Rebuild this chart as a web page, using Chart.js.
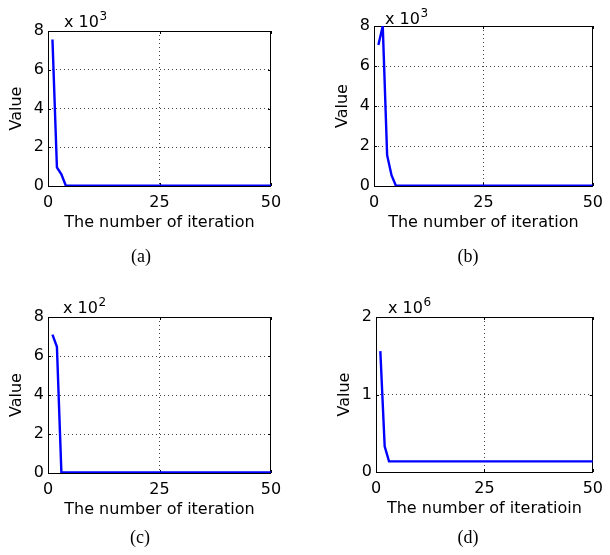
<!DOCTYPE html>
<html>
<head>
<meta charset="utf-8">
<script src="https://cdn.jsdelivr.net/npm/chart.js@4.4.1/dist/chart.umd.min.js"></script>
<style>
  html, body { margin: 0; padding: 0; background: #ffffff; }
  #wrap { position: relative; width: 610px; height: 555px; overflow: hidden; background: #fff; }
  canvas { position: absolute; }
  .cap { position: absolute; font-family: 'Liberation Serif', 'Times New Roman', serif; font-size: 18px; line-height: 18px; color: #000; transform: translate(-50%, -50%); white-space: nowrap; }
</style>
</head>
<body>
<div id="wrap">
  <canvas id="ca" width="305" height="250" style="left:0px;top:0px"></canvas>
  <canvas id="cb" width="305" height="250" style="left:305px;top:0px"></canvas>
  <canvas id="cc" width="305" height="250" style="left:0px;top:280px"></canvas>
  <canvas id="cd" width="305" height="250" style="left:305px;top:280px"></canvas>
  <div class="cap" style="left:141px;top:256px">(a)</div>
  <div class="cap" style="left:468px;top:256px">(b)</div>
  <div class="cap" style="left:140px;top:537px">(c)</div>
  <div class="cap" style="left:468px;top:537px">(d)</div>
</div>
<script>
// ---------------- data ----------------
const iterations = [1,2,3,4,5,6,7,8,9,10,11,12,13,14,15,16,17,18,19,20,21,22,23,24,25,26,27,28,29,30,31,32,33,34,35,36,37,38,39,40,41,42,43,44,45,46,47,48,49,50];

const valuesA = [7560,960,600,15,15,15,15,15,15,15,15,15,15,15,15,15,15,15,15,15,15,15,15,15,15,15,15,15,15,15,15,15,15,15,15,15,15,15,15,15,15,15,15,15,15,15,15,15,15,15];
const valuesB = [7050,8000,1540,540,15,15,15,15,15,15,15,15,15,15,15,15,15,15,15,15,15,15,15,15,15,15,15,15,15,15,15,15,15,15,15,15,15,15,15,15,15,15,15,15,15,15,15,15,15,15];
const valuesC = [710,647,3,3,3,3,3,3,3,3,3,3,3,3,3,3,3,3,3,3,3,3,3,3,3,3,3,3,3,3,3,3,3,3,3,3,3,3,3,3,3,3,3,3,3,3,3,3,3,3];
const valuesD = [1560000,330000,137000,137000,137000,137000,137000,137000,137000,137000,137000,137000,137000,137000,137000,137000,137000,137000,137000,137000,137000,137000,137000,137000,137000,137000,137000,137000,137000,137000,137000,137000,137000,137000,137000,137000,137000,137000,137000,137000,137000,137000,137000,137000,137000,137000,137000,137000,137000,137000];

const xTicks = [0, 25, 50];
const yTicksA = [0, 2, 4, 6, 8];
const yTicksB = [0, 2, 4, 6, 8];
const yTicksC = [0, 2, 4, 6, 8];
const yTicksD = [0, 1, 2];

const exponents = [3, 3, 2, 6];
const xTitles = ['The number of iteration', 'The number of iteration', 'The number of iteration', 'The number of iteratioin'];
const yTitle = 'Value';

// ---------------- drawing ----------------
const FONT = "'DejaVu Sans', 'Liberation Sans', sans-serif";

const boxPlugin = {
  id: 'matlabBox',
  beforeDatasetsDraw(chart) {
    const { ctx, chartArea: a } = chart;
    ctx.save();
    ctx.strokeStyle = '#000';
    ctx.lineWidth = 1;
    ctx.strokeRect(Math.round(a.left) + 0.5, Math.round(a.top) + 0.5, Math.round(a.right - a.left) - 1, Math.round(a.bottom - a.top));
    // inward tick marks
    const xs = chart.scales.x, ys = chart.scales.y;
    const tl = 3;
    ctx.beginPath();
    xs.ticks.forEach(t => {
      const px = Math.round(xs.getPixelForValue(t.value)) + 0.5;
      ctx.moveTo(px, a.bottom); ctx.lineTo(px, a.bottom - tl);
      ctx.moveTo(px, a.top); ctx.lineTo(px, a.top + tl);
    });
    ys.ticks.forEach(t => {
      const py = Math.round(ys.getPixelForValue(t.value)) + 0.5;
      ctx.moveTo(a.left, py); ctx.lineTo(a.left + tl, py);
      ctx.moveTo(a.right, py); ctx.lineTo(a.right - tl, py);
    });
    ctx.stroke();
    ctx.restore();
  },
  afterDraw(chart, args, opts) {
    const { ctx, chartArea: a } = chart;
    ctx.save();
    ctx.fillStyle = '#000';
    ctx.textBaseline = 'alphabetic';
    ctx.textAlign = 'left';
    ctx.font = '16px ' + FONT;
    const x0 = a.left + opts.dx;
    const y0 = a.top - opts.dy;
    const base = 'x 10';
    ctx.fillText(base, x0, y0);
    const w = ctx.measureText(base).width;
    ctx.font = '12px ' + FONT;
    ctx.fillText(String(opts.exp), x0 + w + 0.5, y0 - 7);
    ctx.restore();
  }
};

function makeChart(id, values, yTicks, exp, xTitle, pad, mult) {
  const scale = Math.pow(10, exp);
  const pts = iterations.map((it, i) => ({ x: it, y: values[i] }));
  const yMax = yTicks[yTicks.length - 1] * scale;
  const hideEdge = (c) => {
    const n = c.scale.ticks.length;
    return (c.index === 0 || c.index === n - 1) ? 'rgba(0,0,0,0)' : '#444';
  };
  return new Chart(document.getElementById(id), {
    type: 'line',
    data: {
      datasets: [{
        data: pts,
        borderColor: '#0000ff',
        borderWidth: 2.4,
        pointRadius: 0,
        tension: 0,
        fill: false
      }]
    },
    options: {
      responsive: false,
      animation: false,
      devicePixelRatio: 1,
      layout: { padding: pad },
      plugins: {
        legend: { display: false },
        tooltip: { enabled: false },
        matlabBox: { dx: mult.dx, dy: mult.dy, exp: exp }
      },
      scales: {
        x: {
          type: 'linear',
          min: xTicks[0], max: xTicks[xTicks.length - 1],
          afterBuildTicks: (s) => { s.ticks = xTicks.map(v => ({ value: v })); },
          afterFit: (s) => { s.height = 50; },
          ticks: { color: '#000', font: { family: FONT, size: 16 }, padding: 7, maxRotation: 0, autoSkip: false },
          grid: { drawTicks: false, color: hideEdge, lineWidth: 1 },
          border: { display: false, dash: [1, 3] },
          title: { display: true, text: xTitle, color: '#000', font: { family: FONT, size: 16 }, padding: { top: 0, bottom: 4 } }
        },
        y: {
          type: 'linear',
          min: 0, max: yMax,
          afterBuildTicks: (s) => { s.ticks = yTicks.map(v => ({ value: v * scale })); },
          afterFit: (s) => { s.width = 48; },
          ticks: { color: '#000', font: { family: FONT, size: 16 }, padding: 4, autoSkip: false,
                   callback: (v) => String(Math.round(v / scale)) },
          grid: { drawTicks: false, color: hideEdge, lineWidth: 1 },
          border: { display: false, dash: [1, 3] },
          title: { display: true, text: yTitle, color: '#000', font: { family: FONT, size: 16 }, padding: { top: 7, bottom: 0 } }
        }
      }
    },
    plugins: [boxPlugin]
  });
}

const charts = [
  makeChart('ca', valuesA, yTicksA, exponents[0], xTitles[0], { left: 0, right: 34, top: 31, bottom: 14 }, { dx: 16, dy: 4 }),
  makeChart('cb', valuesB, yTicksB, exponents[1], xTitles[1], { left: 21, right: 12, top: 26, bottom: 14 }, { dx: 11, dy: 2 }),
  makeChart('cc', valuesC, yTicksC, exponents[2], xTitles[2], { left: 0, right: 34, top: 37, bottom: 7 }, { dx: 15, dy: 4 }),
  makeChart('cd', valuesD, yTicksD, exponents[3], xTitles[3], { left: 23, right: 12, top: 37, bottom: 8 }, { dx: 12, dy: 4 })
];
</script>
</body>
</html>
